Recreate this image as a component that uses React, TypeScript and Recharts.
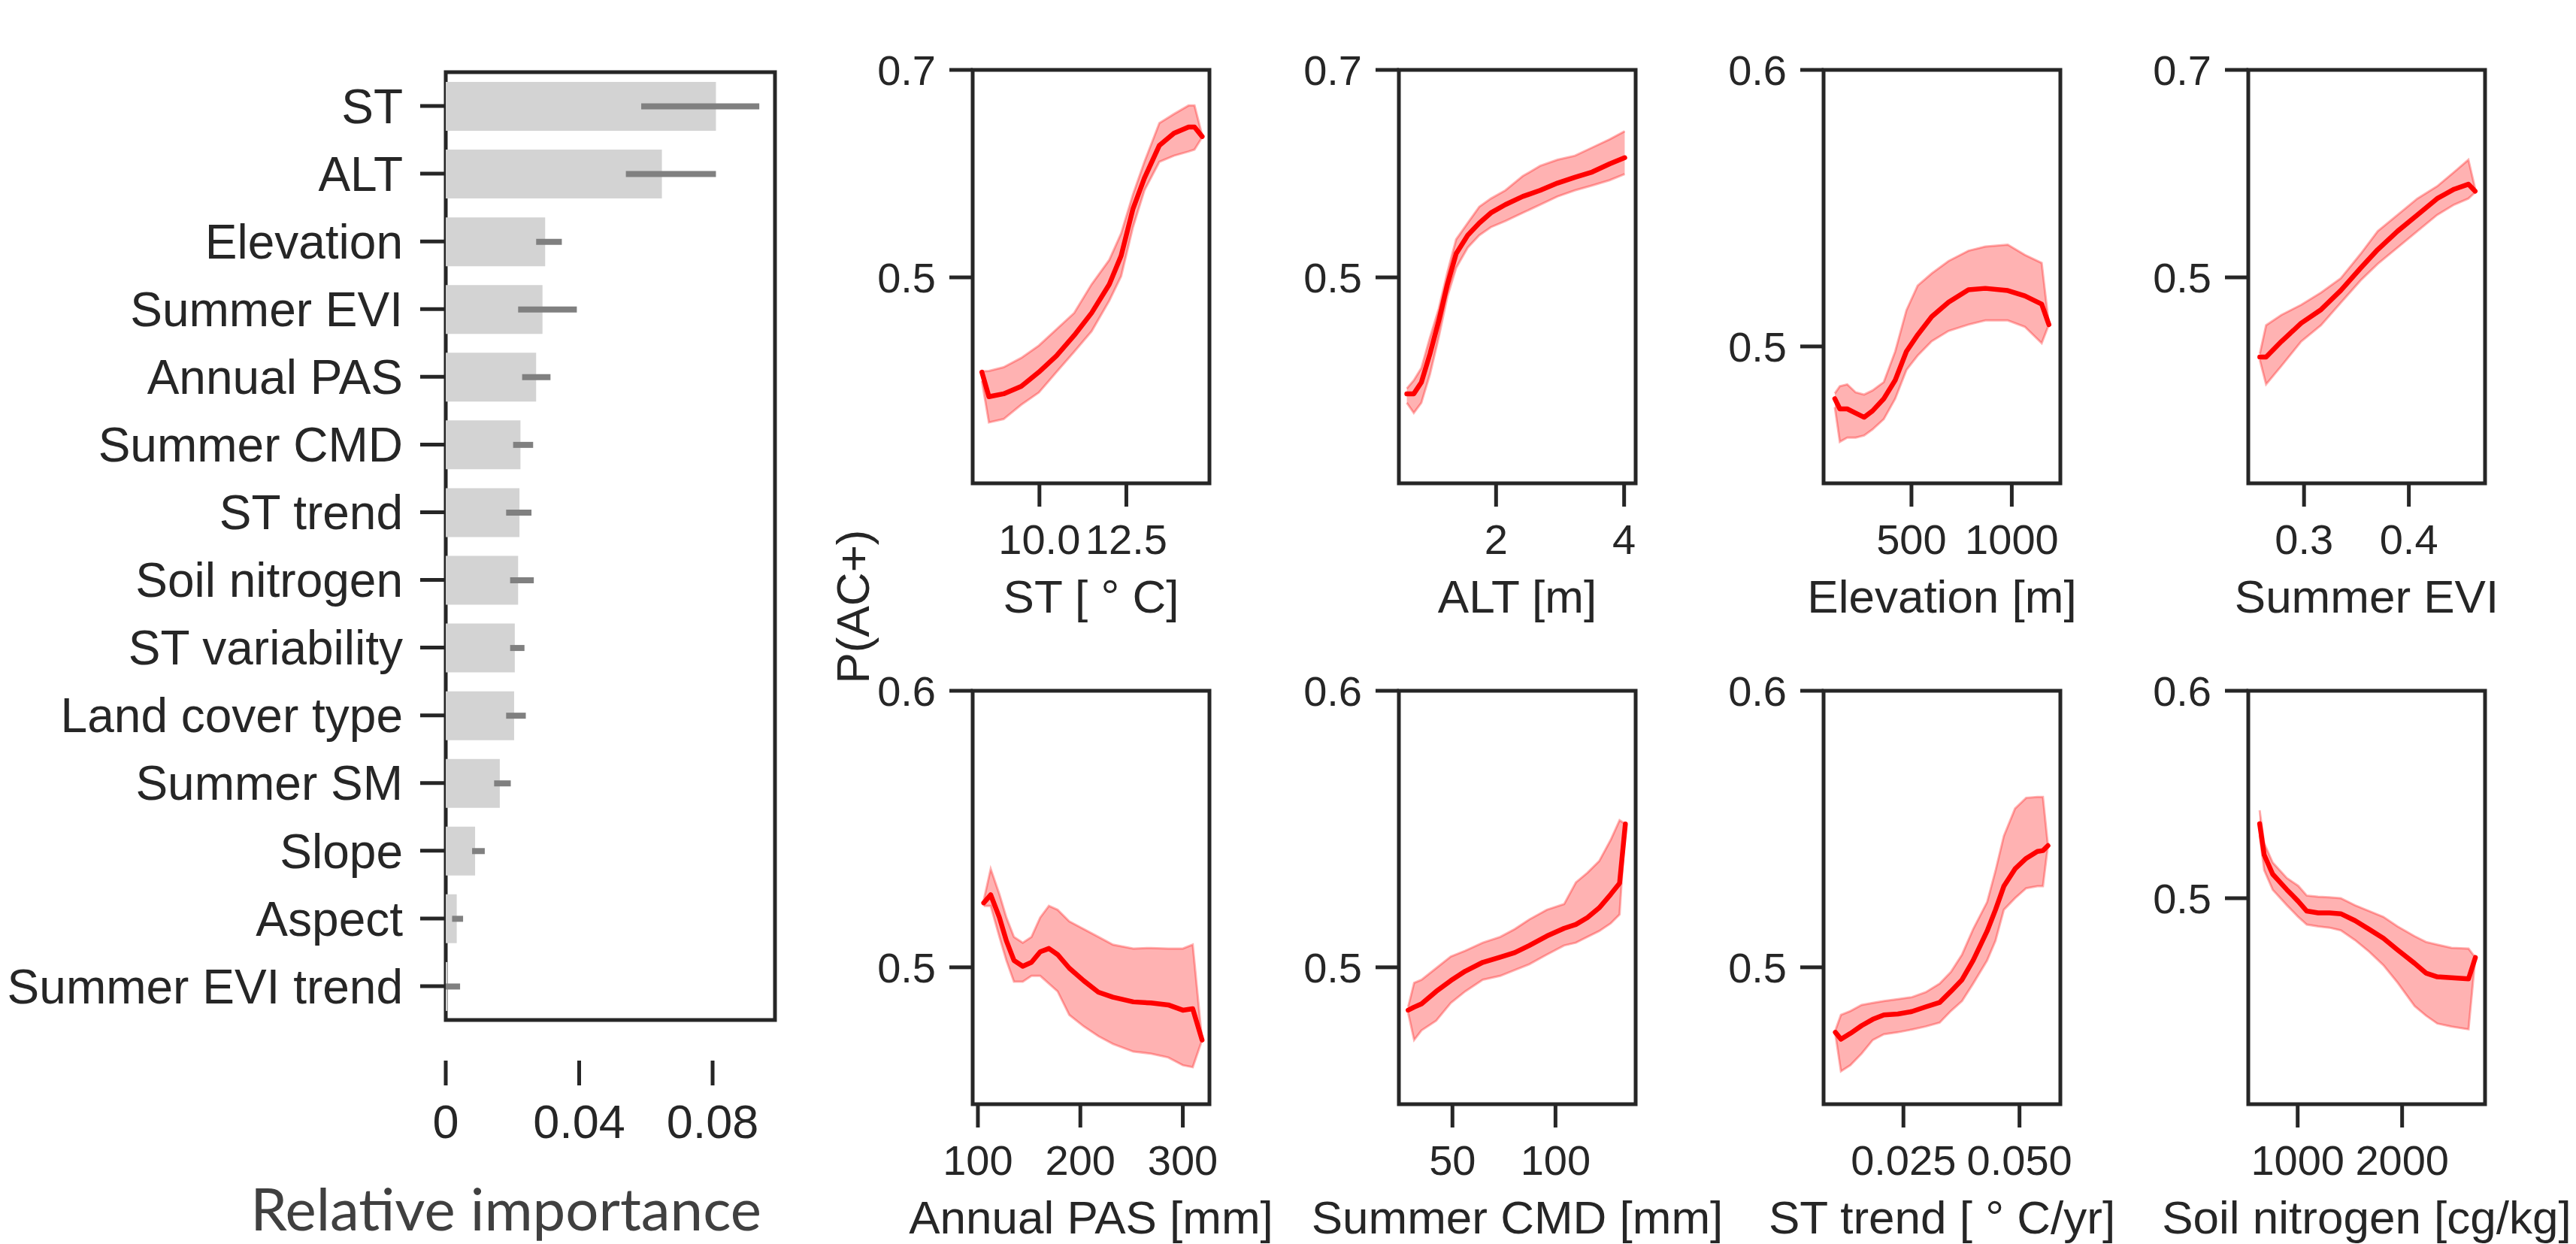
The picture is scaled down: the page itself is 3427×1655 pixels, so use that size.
import React from 'react';
import {
  BarChart,
  Bar,
  ErrorBar,
  XAxis,
  YAxis,
  ReferenceArea,
  ComposedChart,
  Area,
  Line,
} from 'recharts';

const FONT = '"Liberation Sans", Arial, Helvetica, sans-serif';
const INK = '#262626';

// ---------- Feature importance (left panel) ----------
const FEATURES = [
  'ST',
  'ALT',
  'Elevation',
  'Summer EVI',
  'Annual PAS',
  'Summer CMD',
  'ST trend',
  'Soil nitrogen',
  'ST variability',
  'Land cover type',
  'Summer SM',
  'Slope',
  'Aspect',
  'Summer EVI trend',
];
const IMPORTANCE = [0.081, 0.0648, 0.0298, 0.029, 0.0271, 0.0224, 0.0221, 0.0217, 0.0207, 0.0205, 0.0162, 0.0088, 0.0033, 0.0005];
const ERR_LOW = [0.0586, 0.054, 0.0271, 0.0217, 0.0229, 0.0202, 0.0181, 0.0193, 0.0193, 0.0181, 0.0145, 0.0079, 0.0019, 0.0];
const ERR_HIGH = [0.094, 0.081, 0.0348, 0.0393, 0.0314, 0.0262, 0.0257, 0.0264, 0.0236, 0.024, 0.0195, 0.0117, 0.0052, 0.0043];
const IMPORTANCE_TICKS = [0, 0.04, 0.08];
const IMPORTANCE_MAX = 0.0987;

// ---------- Partial dependence curves: [x, mean, lower, upper] ----------
const ST_CURVE = [
  [8.345, 0.4087, 0.4, 0.4095],
  [8.547, 0.385, 0.3602, 0.4098],
  [8.97, 0.3878, 0.3634, 0.4134],
  [9.476, 0.3949, 0.3772, 0.4224],
  [9.983, 0.4087, 0.389, 0.4343],
  [10.49, 0.4244, 0.4087, 0.45],
  [11.0, 0.4441, 0.4283, 0.4657],
  [11.5, 0.4657, 0.448, 0.4933],
  [12.01, 0.4933, 0.4776, 0.5169],
  [12.35, 0.5209, 0.5012, 0.5425],
  [12.69, 0.5661, 0.5484, 0.5799],
  [13.02, 0.5957, 0.5839, 0.6114],
  [13.45, 0.6272, 0.6114, 0.6488],
  [13.87, 0.639, 0.6173, 0.6575],
  [14.29, 0.6449, 0.6213, 0.6657],
  [14.46, 0.6449, 0.6232, 0.6657],
  [14.68, 0.6358, 0.635, 0.637],
];
const ALT_CURVE = [
  [0.606, 0.3878, 0.3791, 0.3929],
  [0.715, 0.3878, 0.3693, 0.4008],
  [0.833, 0.3988, 0.3791, 0.4126],
  [0.968, 0.4264, 0.4067, 0.4421],
  [1.104, 0.4579, 0.4421, 0.4697],
  [1.24, 0.4933, 0.4815, 0.5051],
  [1.376, 0.5228, 0.5091, 0.5366],
  [1.557, 0.5406, 0.5287, 0.5524],
  [1.738, 0.5524, 0.5406, 0.5681],
  [1.919, 0.5622, 0.5484, 0.576],
  [2.145, 0.5701, 0.5543, 0.5839],
  [2.416, 0.578, 0.5622, 0.5976],
  [2.688, 0.5839, 0.5701, 0.6075],
  [2.959, 0.5909, 0.578, 0.6134],
  [3.231, 0.5965, 0.5839, 0.6173],
  [3.502, 0.6016, 0.5886, 0.6252],
  [3.774, 0.6094, 0.5937, 0.6331],
  [4.009, 0.6154, 0.5996, 0.6409],
];
const ELEVATION_CURVE = [
  [118, 0.4811, 0.478, 0.483],
  [143, 0.4774, 0.4655, 0.4856],
  [180, 0.4774, 0.467, 0.4863],
  [222, 0.4759, 0.467, 0.4834],
  [264, 0.4744, 0.4678, 0.4826],
  [306, 0.4767, 0.47, 0.4841],
  [362, 0.4811, 0.4737, 0.4871],
  [419, 0.4878, 0.4811, 0.4982],
  [475, 0.4982, 0.4915, 0.5131],
  [531, 0.5042, 0.4967, 0.522],
  [601, 0.5108, 0.5019, 0.5264],
  [685, 0.516, 0.5056, 0.5309],
  [784, 0.5205, 0.5079, 0.5346],
  [868, 0.521, 0.5094, 0.5361],
  [980, 0.5202, 0.5094, 0.5368],
  [1065, 0.5183, 0.5071, 0.5331],
  [1149, 0.5153, 0.5012, 0.5302],
  [1185, 0.5079, 0.5079, 0.5079],
];
const EVI_CURVE = [
  [0.2578, 0.4232, 0.4205, 0.4264],
  [0.2638, 0.4232, 0.3969, 0.4539],
  [0.2784, 0.4382, 0.4146, 0.4638],
  [0.2973, 0.4559, 0.4382, 0.4736],
  [0.3162, 0.4689, 0.4539, 0.4854],
  [0.3351, 0.4874, 0.4756, 0.4992],
  [0.3541, 0.5091, 0.4972, 0.5228],
  [0.3703, 0.5268, 0.513, 0.5445],
  [0.3892, 0.5445, 0.5287, 0.5602],
  [0.4081, 0.5602, 0.5445, 0.576],
  [0.427, 0.576, 0.5602, 0.5878],
  [0.4432, 0.585, 0.5701, 0.6016],
  [0.4568, 0.5898, 0.576, 0.6134],
  [0.4632, 0.5831, 0.5819, 0.5858],
];
const PAS_CURVE = [
  [105.7, 0.5233, 0.5222, 0.5243],
  [112.5, 0.5262, 0.5222, 0.5356],
  [121, 0.518, 0.511, 0.5264],
  [127.8, 0.5096, 0.5025, 0.518],
  [135.2, 0.5025, 0.4948, 0.511],
  [143.8, 0.5004, 0.4948, 0.5089],
  [152.3, 0.5018, 0.4969, 0.511],
  [160.8, 0.5056, 0.4969, 0.518],
  [169.3, 0.5068, 0.4941, 0.5222],
  [177.8, 0.5046, 0.4913, 0.5208],
  [189.2, 0.4997, 0.4828, 0.5166],
  [203.4, 0.4951, 0.4786, 0.5138],
  [217.6, 0.491, 0.4751, 0.511],
  [231.8, 0.4892, 0.4723, 0.5082],
  [251.7, 0.4875, 0.4695, 0.5068],
  [268.8, 0.4871, 0.4688, 0.507],
  [285.8, 0.4864, 0.4674, 0.5068],
  [300, 0.4845, 0.4646, 0.5068],
  [309.7, 0.485, 0.4639, 0.5082],
  [318.8, 0.4737, 0.4737, 0.4737],
];
const CMD_CURVE = [
  [28.5, 0.4845, 0.4835, 0.4857],
  [31.4, 0.4856, 0.4737, 0.4944],
  [35.0, 0.4868, 0.4772, 0.4955],
  [42.1, 0.4913, 0.4807, 0.4997],
  [49.2, 0.4952, 0.4871, 0.5039],
  [56.2, 0.4986, 0.4913, 0.506],
  [64.7, 0.5018, 0.4955, 0.5089],
  [73.2, 0.5037, 0.4969, 0.511],
  [80.2, 0.5053, 0.499, 0.5138],
  [87.3, 0.5079, 0.5011, 0.5173],
  [95.8, 0.5113, 0.5046, 0.5208],
  [104.2, 0.5141, 0.5079, 0.5229],
  [109.9, 0.5155, 0.5089, 0.5307],
  [115.5, 0.518, 0.511, 0.5342],
  [121.2, 0.5215, 0.5131, 0.5384],
  [126.8, 0.5264, 0.5159, 0.5461],
  [131.1, 0.5304, 0.5191, 0.5532],
  [133.9, 0.5518, 0.5518, 0.5518],
];
const ST_TREND_CURVE = [
  [0.01034, 0.4765, 0.4758, 0.4772],
  [0.01154, 0.474, 0.4624, 0.4828],
  [0.01358, 0.4761, 0.4646, 0.4842],
  [0.01599, 0.4789, 0.4688, 0.4864],
  [0.01839, 0.4812, 0.4737, 0.4871],
  [0.02079, 0.4828, 0.4758, 0.4878],
  [0.0238, 0.4831, 0.4765, 0.4885],
  [0.0268, 0.484, 0.4775, 0.4892],
  [0.02981, 0.4857, 0.4786, 0.491],
  [0.03281, 0.4873, 0.48, 0.4941],
  [0.03522, 0.4913, 0.4842, 0.4983],
  [0.03762, 0.4955, 0.4878, 0.5046],
  [0.04002, 0.5025, 0.4941, 0.5138],
  [0.04303, 0.5131, 0.5025, 0.5236],
  [0.04483, 0.5208, 0.5096, 0.5349],
  [0.04663, 0.5293, 0.5208, 0.5475],
  [0.04904, 0.5356, 0.525, 0.5574],
  [0.05144, 0.5394, 0.5286, 0.5613],
  [0.05385, 0.5419, 0.5293, 0.5616],
  [0.05505, 0.5422, 0.5293, 0.5616],
  [0.05613, 0.544, 0.544, 0.544],
];
const SOIL_N_CURVE = [
  [635.9, 0.5359, 0.5303, 0.5424],
  [679.3, 0.5209, 0.5135, 0.5265],
  [760.9, 0.5116, 0.5041, 0.5172],
  [896.7, 0.5041, 0.4966, 0.5097],
  [1005.4, 0.4985, 0.491, 0.506],
  [1087, 0.4938, 0.4873, 0.5013],
  [1195.7, 0.4929, 0.4864, 0.5007],
  [1304.3, 0.4929, 0.4858, 0.5004],
  [1413, 0.4925, 0.4845, 0.5],
  [1548.9, 0.4892, 0.4798, 0.4966],
  [1684.8, 0.485, 0.4742, 0.4938],
  [1820.7, 0.4807, 0.4677, 0.491],
  [1956.5, 0.4751, 0.4593, 0.4864],
  [2119.6, 0.4686, 0.448, 0.4817],
  [2228.3, 0.4639, 0.4434, 0.4789],
  [2337, 0.4621, 0.4396, 0.4776],
  [2472.8, 0.4617, 0.4381, 0.4761],
  [2635.9, 0.4611, 0.4368, 0.4757],
  [2701.1, 0.4714, 0.4714, 0.4714],
];

// ---------- Panel axis specs ----------
const PANELS = [
  { label: 'ST [ \u00B0 C]', curve: ST_CURVE, xDomain: [8.08, 14.89], xTicks: [10, 12.5], xDec: 1, yDomain: [0.3015, 0.7], yTicks: [0.5, 0.7] },
  { label: 'ALT [m]', curve: ALT_CURVE, xDomain: [0.482, 4.18], xTicks: [2, 4], xDec: 0, yDomain: [0.3015, 0.7], yTicks: [0.5, 0.7] },
  { label: 'Elevation [m]', curve: ELEVATION_CURVE, xDomain: [62, 1242], xTicks: [500, 1000], xDec: 0, yDomain: [0.4505, 0.6], yTicks: [0.5, 0.6] },
  { label: 'Summer EVI', curve: EVI_CURVE, xDomain: [0.2468, 0.4727], xTicks: [0.3, 0.4], xDec: 1, yDomain: [0.3015, 0.7], yTicks: [0.5, 0.7] },
  { label: 'Annual PAS [mm]', curve: PAS_CURVE, xDomain: [94.9, 326], xTicks: [100, 200, 300], xDec: 0, yDomain: [0.4505, 0.6], yTicks: [0.5, 0.6] },
  { label: 'Summer CMD [mm]', curve: CMD_CURVE, xDomain: [24, 138.9], xTicks: [50, 100], xDec: 0, yDomain: [0.4505, 0.6], yTicks: [0.5, 0.6] },
  { label: 'ST trend [ \u00B0 C/yr]', curve: ST_TREND_CURVE, xDomain: [0.0078, 0.0588], xTicks: [0.025, 0.05], xDec: 3, yDomain: [0.4505, 0.6], yTicks: [0.5, 0.6] },
  { label: 'Soil nitrogen [cg/kg]', curve: SOIL_N_CURVE, xDomain: [527, 2794], xTicks: [1000, 2000], xDec: 0, yDomain: [0.4007, 0.6], yTicks: [0.5, 0.6] },
];

// ---------- Layout (pixels) ----------
const PANEL_LEFTS = [1294, 1861, 2426, 2991];
const ROW_TOPS = [93, 919];
const PANEL_W = 315;
const PANEL_H = 550;
const Y_AXIS_W = 200;
const X_AXIS_H = 172;

const tickLineStyle = { stroke: INK, strokeWidth: 5 };

function ImportanceChart() {
  const data = FEATURES.map((name, i) => ({
    name,
    value: IMPORTANCE[i],
    err: [IMPORTANCE[i] - ERR_LOW[i], ERR_HIGH[i] - IMPORTANCE[i]],
  }));
  return (
    <div style={{ position: 'absolute', left: 0, top: 0 }}>
      <BarChart
        layout="vertical"
        width={1100}
        height={1540}
        data={data}
        margin={{ top: 42, right: 69, bottom: 29, left: 0 }}
        barSize={65}
      >
        <XAxis
          type="number"
          domain={[0, IMPORTANCE_MAX]}
          allowDataOverflow
          ticks={IMPORTANCE_TICKS}
          interval={0}
          tickFormatter={(v: number) => (v === 0 ? '0' : String(v))}
          height={100}
          tickSize={33}
          tickMargin={25}
          axisLine={false}
          tickLine={tickLineStyle}
          tick={{ fontSize: 63, fill: INK, fontFamily: FONT }}
        />
        <YAxis
          type="category"
          dataKey="name"
          width={593}
          padding={{ top: 54, bottom: 54 }}
          interval={0}
          tickSize={34}
          tickMargin={23}
          axisLine={false}
          tickLine={tickLineStyle}
          tick={{ fontSize: 64, fill: INK, fontFamily: FONT }}
        />
        <Bar dataKey="value" fill="#d3d3d3" isAnimationActive={false}>
          <ErrorBar dataKey="err" direction="x" width={0} stroke="#808080" strokeWidth={8} />
        </Bar>
        <ReferenceArea
          x1={0}
          x2={IMPORTANCE_MAX}
          fill="none"
          stroke={INK}
          strokeWidth={5}
          ifOverflow="visible"
        />
      </BarChart>
    </div>
  );
}

function Panel({ cfg, left, top }: { cfg: any; left: number; top: number }) {
  const data = cfg.curve.map((p: number[]) => ({ x: p[0], y: p[1], band: [p[2], p[3]] }));
  const mt = 40;
  const mr = 200;
  const mb = 14;
  return (
    <div style={{ position: 'absolute', left: left - Y_AXIS_W, top: top - mt }}>
      <ComposedChart
        width={Y_AXIS_W + PANEL_W + mr}
        height={mt + PANEL_H + X_AXIS_H + mb}
        data={data}
        margin={{ top: mt, right: mr, bottom: mb, left: 0 }}
      >
        <XAxis
          type="number"
          dataKey="x"
          domain={cfg.xDomain}
          allowDataOverflow
          ticks={cfg.xTicks}
          interval={0}
          tickFormatter={(v: number) => v.toFixed(cfg.xDec)}
          height={X_AXIS_H}
          tickSize={31}
          tickMargin={23}
          axisLine={false}
          tickLine={tickLineStyle}
          tick={{ fontSize: 56, fill: INK, fontFamily: FONT }}
          label={{
            value: cfg.label,
            position: 'insideBottom',
            offset: 0,
            fontSize: 62,
            fill: INK,
            fontFamily: FONT,
          }}
        />
        <YAxis
          type="number"
          domain={cfg.yDomain}
          allowDataOverflow
          ticks={cfg.yTicks}
          interval={0}
          tickFormatter={(v: number) => v.toFixed(1)}
          width={Y_AXIS_W}
          tickSize={31}
          tickMargin={18}
          axisLine={false}
          tickLine={tickLineStyle}
          tick={{ fontSize: 56, fill: INK, fontFamily: FONT }}
        />
        <Area
          type="linear"
          dataKey="band"
          stroke="#ff0000"
          strokeOpacity={0.3}
          strokeWidth={3}
          fill="#ff0000"
          fillOpacity={0.3}
          dot={false}
          activeDot={false}
          isAnimationActive={false}
        />
        <Line
          type="linear"
          dataKey="y"
          stroke="#ff0000"
          strokeWidth={6.5}
          strokeLinejoin="round"
          strokeLinecap="round"
          dot={false}
          activeDot={false}
          isAnimationActive={false}
        />
        <ReferenceArea
          x1={cfg.xDomain[0]}
          x2={cfg.xDomain[1]}
          fill="none"
          stroke={INK}
          strokeWidth={5}
          ifOverflow="visible"
        />
      </ComposedChart>
    </div>
  );
}

export default function App() {
  return (
    <div
      style={{
        position: 'absolute',
        left: 0,
        top: 0,
        width: 3427,
        height: 1655,
        background: '#ffffff',
        overflow: 'hidden',
      }}
    >
      <ImportanceChart />
      <div
        style={{
          position: 'absolute',
          left: 273,
          top: 1560,
          width: 800,
          textAlign: 'center',
          fontFamily: 'Lato, "Open Sans", sans-serif',
          fontSize: 78,
          lineHeight: 'normal',
          color: '#404040',
        }}
      >
        Relative importance
      </div>
      {PANELS.map((cfg, i) => (
        <Panel key={i} cfg={cfg} left={PANEL_LEFTS[i % 4]} top={ROW_TOPS[Math.floor(i / 4)]} />
      ))}
      <div
        style={{
          position: 'absolute',
          left: 1135 - 150,
          top: 807 - 35,
          width: 300,
          height: 70,
          lineHeight: '70px',
          textAlign: 'center',
          fontFamily: FONT,
          fontSize: 62,
          color: INK,
          transform: 'rotate(-90deg)',
        }}
      >
        P(AC+)
      </div>
    </div>
  );
}
